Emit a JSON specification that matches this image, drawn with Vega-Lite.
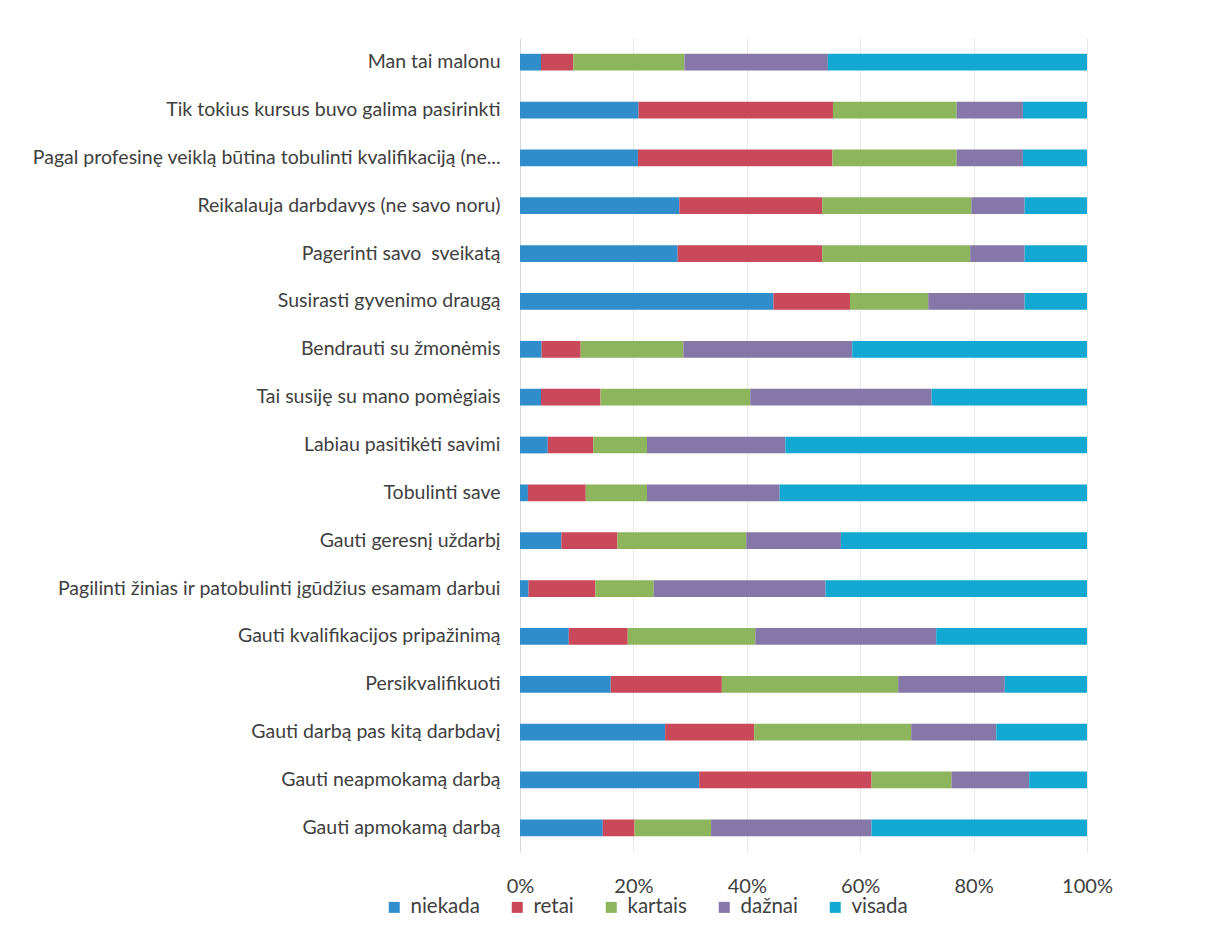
{
  "$schema": "https://vega.github.io/schema/vega-lite/v6.json",
  "autosize": "none",
  "width": 567,
  "height": 814,
  "padding": {"left": 520, "top": 38, "right": 123, "bottom": 84},
  "background": "white",
  "data": {
    "values": [
      {"cat": "Man tai malonu", "s": "niekada", "o": 1, "v": 3.7},
      {"cat": "Man tai malonu", "s": "retai", "o": 2, "v": 5.7},
      {"cat": "Man tai malonu", "s": "kartais", "o": 3, "v": 19.6},
      {"cat": "Man tai malonu", "s": "dažnai", "o": 4, "v": 25.3},
      {"cat": "Man tai malonu", "s": "visada", "o": 5, "v": 45.7},

      {"cat": "Tik tokius kursus buvo galima pasirinkti", "s": "niekada", "o": 1, "v": 20.9},
      {"cat": "Tik tokius kursus buvo galima pasirinkti", "s": "retai", "o": 2, "v": 34.3},
      {"cat": "Tik tokius kursus buvo galima pasirinkti", "s": "kartais", "o": 3, "v": 21.8},
      {"cat": "Tik tokius kursus buvo galima pasirinkti", "s": "dažnai", "o": 4, "v": 11.7},
      {"cat": "Tik tokius kursus buvo galima pasirinkti", "s": "visada", "o": 5, "v": 11.3},

      {"cat": "Pagal profesinę veiklą būtina tobulinti kvalifikaciją (ne...", "s": "niekada", "o": 1, "v": 20.8},
      {"cat": "Pagal profesinę veiklą būtina tobulinti kvalifikaciją (ne...", "s": "retai", "o": 2, "v": 34.3},
      {"cat": "Pagal profesinę veiklą būtina tobulinti kvalifikaciją (ne...", "s": "kartais", "o": 3, "v": 21.9},
      {"cat": "Pagal profesinę veiklą būtina tobulinti kvalifikaciją (ne...", "s": "dažnai", "o": 4, "v": 11.7},
      {"cat": "Pagal profesinę veiklą būtina tobulinti kvalifikaciją (ne...", "s": "visada", "o": 5, "v": 11.3},

      {"cat": "Reikalauja darbdavys (ne savo noru)", "s": "niekada", "o": 1, "v": 28.1},
      {"cat": "Reikalauja darbdavys (ne savo noru)", "s": "retai", "o": 2, "v": 25.2},
      {"cat": "Reikalauja darbdavys (ne savo noru)", "s": "kartais", "o": 3, "v": 26.3},
      {"cat": "Reikalauja darbdavys (ne savo noru)", "s": "dažnai", "o": 4, "v": 9.4},
      {"cat": "Reikalauja darbdavys (ne savo noru)", "s": "visada", "o": 5, "v": 11.0},

      {"cat": "Pagerinti savo\u00a0 sveikatą", "s": "niekada", "o": 1, "v": 27.8},
      {"cat": "Pagerinti savo\u00a0 sveikatą", "s": "retai", "o": 2, "v": 25.5},
      {"cat": "Pagerinti savo\u00a0 sveikatą", "s": "kartais", "o": 3, "v": 26.1},
      {"cat": "Pagerinti savo\u00a0 sveikatą", "s": "dažnai", "o": 4, "v": 9.6},
      {"cat": "Pagerinti savo\u00a0 sveikatą", "s": "visada", "o": 5, "v": 11.0},

      {"cat": "Susirasti gyvenimo draugą", "s": "niekada", "o": 1, "v": 44.7},
      {"cat": "Susirasti gyvenimo draugą", "s": "retai", "o": 2, "v": 13.5},
      {"cat": "Susirasti gyvenimo draugą", "s": "kartais", "o": 3, "v": 13.8},
      {"cat": "Susirasti gyvenimo draugą", "s": "dažnai", "o": 4, "v": 17.0},
      {"cat": "Susirasti gyvenimo draugą", "s": "visada", "o": 5, "v": 11.0},

      {"cat": "Bendrauti su žmonėmis", "s": "niekada", "o": 1, "v": 3.8},
      {"cat": "Bendrauti su žmonėmis", "s": "retai", "o": 2, "v": 6.9},
      {"cat": "Bendrauti su žmonėmis", "s": "kartais", "o": 3, "v": 18.1},
      {"cat": "Bendrauti su žmonėmis", "s": "dažnai", "o": 4, "v": 29.8},
      {"cat": "Bendrauti su žmonėmis", "s": "visada", "o": 5, "v": 41.4},

      {"cat": "Tai susiję su mano pomėgiais", "s": "niekada", "o": 1, "v": 3.7},
      {"cat": "Tai susiję su mano pomėgiais", "s": "retai", "o": 2, "v": 10.5},
      {"cat": "Tai susiję su mano pomėgiais", "s": "kartais", "o": 3, "v": 26.4},
      {"cat": "Tai susiję su mano pomėgiais", "s": "dažnai", "o": 4, "v": 32.0},
      {"cat": "Tai susiję su mano pomėgiais", "s": "visada", "o": 5, "v": 27.4},

      {"cat": "Labiau pasitikėti savimi", "s": "niekada", "o": 1, "v": 4.9},
      {"cat": "Labiau pasitikėti savimi", "s": "retai", "o": 2, "v": 8.0},
      {"cat": "Labiau pasitikėti savimi", "s": "kartais", "o": 3, "v": 9.5},
      {"cat": "Labiau pasitikėti savimi", "s": "dažnai", "o": 4, "v": 24.4},
      {"cat": "Labiau pasitikėti savimi", "s": "visada", "o": 5, "v": 53.2},

      {"cat": "Tobulinti save", "s": "niekada", "o": 1, "v": 1.4},
      {"cat": "Tobulinti save", "s": "retai", "o": 2, "v": 10.2},
      {"cat": "Tobulinti save", "s": "kartais", "o": 3, "v": 10.8},
      {"cat": "Tobulinti save", "s": "dažnai", "o": 4, "v": 23.4},
      {"cat": "Tobulinti save", "s": "visada", "o": 5, "v": 54.2},

      {"cat": "Gauti geresnį uždarbį", "s": "niekada", "o": 1, "v": 7.3},
      {"cat": "Gauti geresnį uždarbį", "s": "retai", "o": 2, "v": 9.9},
      {"cat": "Gauti geresnį uždarbį", "s": "kartais", "o": 3, "v": 22.7},
      {"cat": "Gauti geresnį uždarbį", "s": "dažnai", "o": 4, "v": 16.7},
      {"cat": "Gauti geresnį uždarbį", "s": "visada", "o": 5, "v": 43.4},

      {"cat": "Pagilinti žinias ir patobulinti įgūdžius esamam darbui", "s": "niekada", "o": 1, "v": 1.5},
      {"cat": "Pagilinti žinias ir patobulinti įgūdžius esamam darbui", "s": "retai", "o": 2, "v": 11.8},
      {"cat": "Pagilinti žinias ir patobulinti įgūdžius esamam darbui", "s": "kartais", "o": 3, "v": 10.3},
      {"cat": "Pagilinti žinias ir patobulinti įgūdžius esamam darbui", "s": "dažnai", "o": 4, "v": 30.3},
      {"cat": "Pagilinti žinias ir patobulinti įgūdžius esamam darbui", "s": "visada", "o": 5, "v": 46.1},

      {"cat": "Gauti kvalifikacijos pripažinimą", "s": "niekada", "o": 1, "v": 8.6},
      {"cat": "Gauti kvalifikacijos pripažinimą", "s": "retai", "o": 2, "v": 10.4},
      {"cat": "Gauti kvalifikacijos pripažinimą", "s": "kartais", "o": 3, "v": 22.5},
      {"cat": "Gauti kvalifikacijos pripažinimą", "s": "dažnai", "o": 4, "v": 31.9},
      {"cat": "Gauti kvalifikacijos pripažinimą", "s": "visada", "o": 5, "v": 26.6},

      {"cat": "Persikvalifikuoti", "s": "niekada", "o": 1, "v": 16.0},
      {"cat": "Persikvalifikuoti", "s": "retai", "o": 2, "v": 19.6},
      {"cat": "Persikvalifikuoti", "s": "kartais", "o": 3, "v": 31.1},
      {"cat": "Persikvalifikuoti", "s": "dažnai", "o": 4, "v": 18.8},
      {"cat": "Persikvalifikuoti", "s": "visada", "o": 5, "v": 14.5},

      {"cat": "Gauti darbą pas kitą darbdavį", "s": "niekada", "o": 1, "v": 25.6},
      {"cat": "Gauti darbą pas kitą darbdavį", "s": "retai", "o": 2, "v": 15.7},
      {"cat": "Gauti darbą pas kitą darbdavį", "s": "kartais", "o": 3, "v": 27.7},
      {"cat": "Gauti darbą pas kitą darbdavį", "s": "dažnai", "o": 4, "v": 15.0},
      {"cat": "Gauti darbą pas kitą darbdavį", "s": "visada", "o": 5, "v": 16.0},

      {"cat": "Gauti neapmokamą darbą", "s": "niekada", "o": 1, "v": 31.6},
      {"cat": "Gauti neapmokamą darbą", "s": "retai", "o": 2, "v": 30.4},
      {"cat": "Gauti neapmokamą darbą", "s": "kartais", "o": 3, "v": 14.1},
      {"cat": "Gauti neapmokamą darbą", "s": "dažnai", "o": 4, "v": 13.7},
      {"cat": "Gauti neapmokamą darbą", "s": "visada", "o": 5, "v": 10.2},

      {"cat": "Gauti apmokamą darbą", "s": "niekada", "o": 1, "v": 14.6},
      {"cat": "Gauti apmokamą darbą", "s": "retai", "o": 2, "v": 5.6},
      {"cat": "Gauti apmokamą darbą", "s": "kartais", "o": 3, "v": 13.5},
      {"cat": "Gauti apmokamą darbą", "s": "dažnai", "o": 4, "v": 28.3},
      {"cat": "Gauti apmokamą darbą", "s": "visada", "o": 5, "v": 38.0}
    ]
  },
  "mark": {"type": "bar", "stroke": null},
  "encoding": {
    "y": {
      "field": "cat",
      "type": "nominal",
      "sort": null,
      "scale": {"paddingInner": 0.65, "paddingOuter": 0.33},
      "axis": {
        "title": null,
        "ticks": false,
        "domain": true,
        "domainColor": "#d9d9d9",
        "labelPadding": 20,
        "labelLimit": 0,
        "labelFont": "Lato",
        "labelFontSize": 19.5,
        "labelColor": "#404040"
      }
    },
    "x": {
      "field": "v",
      "type": "quantitative",
      "stack": "normalize",
      "scale": {"domain": [0, 1], "nice": false},
      "axis": {
        "title": null,
        "format": "%",
        "values": [0, 0.2, 0.4, 0.6, 0.8, 1],
        "ticks": false,
        "domain": false,
        "grid": true,
        "gridColor": "#e8e8e8",
        "labelPadding": 24,
        "labelFont": "Lato",
        "labelFontSize": 20,
        "labelColor": "#404040",
        "labelFlush": false
      }
    },
    "color": {
      "field": "s",
      "type": "nominal",
      "sort": ["niekada", "retai", "kartais", "dažnai", "visada"],
      "scale": {
        "domain": ["niekada", "retai", "kartais", "dažnai", "visada"],
        "range": ["#2f8dcb", "#c9495a", "#8db55c", "#8577a8", "#12a8d2"]
      },
      "legend": {
        "title": null,
        "orient": "none",
        "direction": "horizontal",
        "legendX": -136,
        "legendY": 859,
        "symbolType": "square",
        "symbolSize": 121,
        "symbolStrokeWidth": 0,
        "labelFont": "Lato",
        "labelFontSize": 20.5,
        "labelColor": "#404040",
        "labelOffset": 6,
        "columnPadding": 27
      }
    },
    "order": {"field": "o", "type": "quantitative"}
  },
  "config": {
    "view": {"stroke": null}
  }
}
